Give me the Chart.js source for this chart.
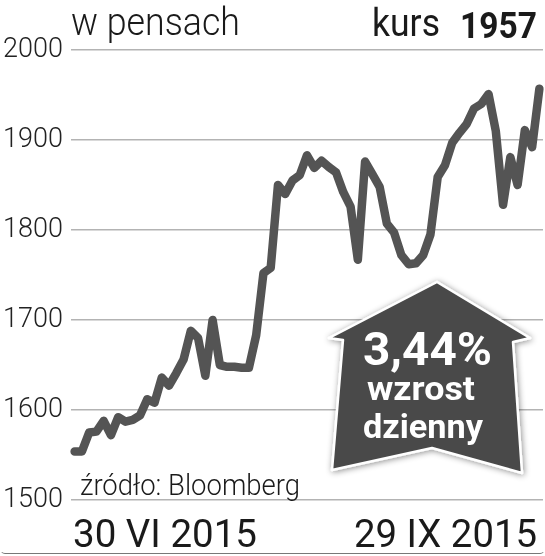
<!DOCTYPE html>
<html>
<head>
<meta charset="utf-8">
<script src="https://cdn.jsdelivr.net/npm/chart.js@4/dist/chart.umd.min.js"></script>
<style>
  html, body { margin: 0; padding: 0; background: #fff; }
  #wrap { position: relative; width: 545px; height: 556px; overflow: hidden; }
  #c { position: absolute; left: 0; top: 0; }
  #ov { position: absolute; left: 0; top: 0; }
  #frame { position: absolute; left: 0; top: 0; width: 543px; height: 553px;
           border-bottom: 1.5px solid #777; border-left: 1px solid transparent; border-right: 1px solid transparent;
           border-radius: 0 0 5px 5px; }
</style>
</head>
<body>
<div id="wrap">
  <canvas id="c" width="545" height="556"></canvas>
  <div id="frame"></div>
  <svg id="ov" width="545" height="556" xmlns="http://www.w3.org/2000/svg">
    <defs>
      <filter id="sh" x="-20%" y="-20%" width="140%" height="140%">
        <feDropShadow dx="1" dy="1" stdDeviation="3" flood-color="#000" flood-opacity="0.45"/>
      </filter>
    </defs>
    <polygon points="437,282 329,338 343,340 332,470 432,448 522,473 513,342 530,338"
             fill="#4a4a4a" stroke="#fff" stroke-width="2.5" stroke-linejoin="round" filter="url(#sh)"/>
    <text id="tUnit" x="71" y="35" font-family="Roboto" font-weight="300" font-size="38" fill="#1a1a1a" textLength="169" lengthAdjust="spacingAndGlyphs"></text>
    <text id="tKurs" x="372" y="36" font-family="Roboto" font-weight="400" font-size="38" fill="#1a1a1a" textLength="68" lengthAdjust="spacingAndGlyphs"></text>
    <text id="tLast" x="460" y="38" font-family="Roboto" font-weight="700" font-size="37" fill="#1a1a1a" textLength="77" lengthAdjust="spacingAndGlyphs"></text>
    <text id="tSrc" x="80" y="495" font-family="Roboto" font-weight="300" font-size="29" fill="#1a1a1a" textLength="220" lengthAdjust="spacingAndGlyphs"></text>
    <text id="tX0" x="73" y="547" font-family="Roboto" font-weight="400" font-size="38" fill="#1a1a1a" textLength="184" lengthAdjust="spacingAndGlyphs"></text>
    <text id="tX1" x="354" y="547" font-family="Roboto" font-weight="400" font-size="38" fill="#1a1a1a" textLength="183" lengthAdjust="spacingAndGlyphs"></text>
    <text id="tPct" x="363" y="365" font-family="Roboto" font-weight="700" font-size="46" fill="#fff" textLength="129" lengthAdjust="spacingAndGlyphs"></text>
    <text id="tW1" x="367" y="400" font-family="Roboto" font-weight="700" font-size="34" fill="#fff" textLength="108" lengthAdjust="spacingAndGlyphs"></text>
    <text id="tW2" x="363" y="438" font-family="Roboto" font-weight="700" font-size="34" fill="#fff" textLength="120" lengthAdjust="spacingAndGlyphs"></text>
  </svg>
</div>
<script>
// ---- data ----
const categories = [
  '30 VI',
  '1 VII','2 VII','3 VII','6 VII','7 VII','8 VII','9 VII','10 VII','13 VII','14 VII','15 VII','16 VII','17 VII',
  '20 VII','21 VII','22 VII','23 VII','24 VII','27 VII','28 VII','29 VII','30 VII','31 VII',
  '3 VIII','4 VIII','5 VIII','6 VIII','7 VIII','10 VIII','11 VIII','12 VIII','13 VIII','14 VIII',
  '17 VIII','18 VIII','19 VIII','20 VIII','21 VIII','24 VIII','25 VIII','26 VIII','27 VIII','28 VIII',
  '1 IX','2 IX','3 IX','4 IX','7 IX','8 IX','9 IX','10 IX','11 IX','14 IX','15 IX','16 IX','17 IX','18 IX',
  '21 IX','22 IX','23 IX','24 IX','25 IX','28 IX','29 IX'
];
const prices = [
  1554,1554,1575,1576,1588,1572,1592,1587,1589,1594,
  1612,1608,1636,1627,1641,1656,1688,1680,1638,1700,
  1650,1648,1648,1647,1647,1683,1752,1758,1850,1840,
  1855,1861,1883,1869,1877,1870,1864,1842,1826,1767,
  1876,1862,1848,1807,1797,1772,1762,1763,1772,1795,
  1859,1872,1897,1908,1918,1935,1940,1951,1910,1828,
  1881,1850,1911,1892,1957
];
const yTicks = [1500, 1600, 1700, 1800, 1900, 2000];
const xEndLabels = ['30 VI 2015', '29 IX 2015'];
const unitLabel = 'w pensach';
const kursLabel = 'kurs';
const lastValue = '1957';
const sourceLabel = 'źródło: Bloomberg';
const changeLabel = '3,44%';
const changeText = ['wzrost', 'dzienny'];

// ---- texts ----
document.getElementById('tUnit').textContent = unitLabel;
document.getElementById('tKurs').textContent = kursLabel;
document.getElementById('tLast').textContent = lastValue;
document.getElementById('tSrc').textContent = sourceLabel;
document.getElementById('tX0').textContent = xEndLabels[0];
document.getElementById('tX1').textContent = xEndLabels[1];
document.getElementById('tPct').textContent = changeLabel;
document.getElementById('tW1').textContent = changeText[0];
document.getElementById('tW2').textContent = changeText[1];

// ---- chart ----
new Chart(document.getElementById('c'), {
  type: 'line',
  data: {
    labels: categories,
    datasets: [{
      data: prices,
      borderColor: '#545454',
      borderWidth: 8.5,
      borderJoinStyle: 'round',
      borderCapStyle: 'round',
      pointRadius: 0,
      tension: 0,
      fill: false
    }]
  },
  options: {
    responsive: false,
    animation: false,
    events: [],
    layout: { padding: { top: 50, bottom: 56, left: 0, right: 2 } },
    plugins: { legend: { display: false }, tooltip: { enabled: false } },
    scales: {
      x: {
        type: 'category',
        offset: true,
        display: false
      },
      y: {
        min: yTicks[0],
        max: yTicks[yTicks.length - 1],
        afterBuildTicks: (s) => { s.ticks = yTicks.map(v => ({ value: v })); },
        afterFit: (s) => { s.width = 71; },
        border: { display: false },
        grid: { color: '#b3b3b3', lineWidth: 1.6, drawTicks: false },
        ticks: {
          padding: 8,
          color: '#222',
          font: { family: 'Roboto', weight: '300', size: 27 },
          callback: (v) => String(v)
        }
      }
    }
  }
});
</script>
</body>
</html>
